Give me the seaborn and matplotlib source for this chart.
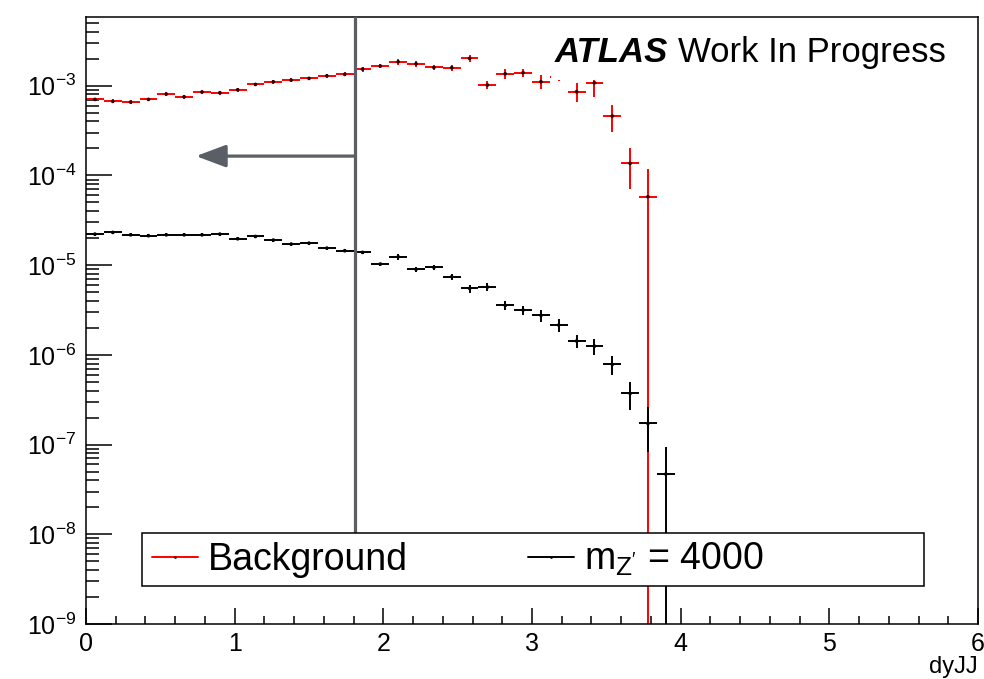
import numpy as np
import pandas as pd
import matplotlib
matplotlib.use("Agg")
import matplotlib.pyplot as plt
from matplotlib.patches import Rectangle
from matplotlib.lines import Line2D
from matplotlib.ticker import LogLocator, MultipleLocator, NullFormatter
import seaborn as sns

# ---------------- data ----------------
bin_width = 0.12

bkg_x = [0.06, 0.18, 0.30, 0.42, 0.54, 0.66, 0.78, 0.90, 1.02, 1.14, 1.26, 1.38,
         1.50, 1.62, 1.74, 1.86, 1.98, 2.10, 2.22, 2.34, 2.46, 2.58, 2.70, 2.82,
         2.94, 3.06, 3.18, 3.30, 3.42, 3.54, 3.66, 3.78]
bkg_y = [7.05e-4, 6.70e-4, 6.58e-4, 7.05e-4, 8.08e-4, 7.54e-4, 8.51e-4, 8.36e-4,
         9.03e-4, 1.036e-3, 1.108e-3, 1.157e-3, 1.209e-3, 1.291e-3, 1.34e-3, 1.535e-3,
         1.66e-3, 1.85e-3, 1.76e-3, 1.60e-3, 1.59e-3, 2.02e-3, 1.02e-3, 1.36e-3,
         1.40e-3, 1.11e-3, 1.25e-3, 8.58e-4, 1.08e-3, 4.60e-4, 1.364e-4, 5.8e-5]
bkg_err = [3.5e-5, 3.4e-5, 3.3e-5, 3.5e-5, 4.0e-5, 3.8e-5, 4.3e-5, 4.2e-5,
           4.5e-5, 5.2e-5, 5.5e-5, 5.8e-5, 6.0e-5, 6.5e-5, 6.7e-5, 9.2e-5,
           1.0e-4, 1.3e-4, 1.2e-4, 1.1e-4, 1.1e-4, 1.8e-4, 1.0e-4, 1.7e-4,
           1.4e-4, 2.0e-4, 1.2e-4, 2.05e-4, 3.3e-4, 1.55e-4, 6.5e-5, 6.0e-5]

sig_x = [0.06, 0.18, 0.30, 0.42, 0.54, 0.66, 0.78, 0.90, 1.02, 1.14, 1.26, 1.38,
         1.50, 1.62, 1.74, 1.86, 1.98, 2.10, 2.22, 2.34, 2.46, 2.58, 2.70, 2.82,
         2.94, 3.06, 3.18, 3.30, 3.42, 3.54, 3.66, 3.78, 3.90]
sig_y = [2.22e-5, 2.32e-5, 2.18e-5, 2.13e-5, 2.18e-5, 2.18e-5, 2.18e-5, 2.22e-5,
         1.97e-5, 2.09e-5, 1.905e-5, 1.72e-5, 1.76e-5, 1.55e-5, 1.45e-5, 1.39e-5,
         1.03e-5, 1.24e-5, 8.98e-6, 9.45e-6, 7.43e-6, 5.51e-6, 5.70e-6, 3.56e-6,
         3.16e-6, 2.76e-6, 2.15e-6, 1.43e-6, 1.25e-6, 7.83e-7, 3.72e-7, 1.72e-7, 4.69e-8]
sig_err = [7.8e-7, 8.1e-7, 7.6e-7, 7.5e-7, 7.6e-7, 7.6e-7, 7.6e-7, 7.8e-7,
           7.9e-7, 8.4e-7, 7.6e-7, 6.9e-7, 7.0e-7, 6.2e-7, 5.8e-7, 5.6e-7,
           4.1e-7, 9.3e-7, 6.7e-7, 7.1e-7, 5.9e-7, 5.5e-7, 5.7e-7, 4.3e-7,
           3.8e-7, 4.1e-7, 3.7e-7, 2.4e-7, 2.4e-7, 1.8e-7, 1.3e-7, 9.0e-8, 4.8e-8]

series_labels = ["Background", r"m$_{\mathregular{Z'}}$ = 4000"]
series_colors = ["#ff0000", "#000000"]
x_label = "dyJJ"
cut_value = 1.81
arrow_end = 0.74
arrow_level = 1.645e-4

# ---------------- style ----------------
sns.set_style("white")
plt.rcParams["font.family"] = ["Liberation Sans", "DejaVu Sans"]
plt.rcParams["mathtext.fontset"] = "custom"
plt.rcParams["mathtext.rm"] = "Liberation Sans"
plt.rcParams["mathtext.it"] = "Liberation Sans:italic"
plt.rcParams["mathtext.bf"] = "Liberation Sans:bold"
plt.rcParams["mathtext.default"] = "regular"
plt.rcParams["text.color"] = "black"
plt.rcParams["axes.labelcolor"] = "black"
plt.rcParams["xtick.color"] = "black"
plt.rcParams["ytick.color"] = "black"

fig = plt.figure(figsize=(9.84, 6.79), dpi=100)
ax = fig.add_axes([0.0874, 0.0810, 0.9065, 0.8940])

df = pd.concat([
    pd.DataFrame({"dyJJ": bkg_x, "value": bkg_y, "err": bkg_err, "sample": series_labels[0]}),
    pd.DataFrame({"dyJJ": sig_x, "value": sig_y, "err": sig_err, "sample": series_labels[1]}),
], ignore_index=True)

for lab, col in zip(series_labels, series_colors):
    sub = df[df["sample"] == lab]
    y = sub["value"].to_numpy()
    e = sub["err"].to_numpy()
    lo = np.minimum(e, y - 1e-13)
    ax.errorbar(sub["dyJJ"], y, xerr=bin_width / 2, yerr=[lo, e], fmt="none",
                ecolor=col, elinewidth=1.4, capsize=0, zorder=2)

sns.scatterplot(data=df, x="dyJJ", y="value", hue="sample",
                palette={series_labels[0]: "#300000", series_labels[1]: "#000000"},
                s=7, linewidth=0, legend=False, ax=ax, zorder=3)

ax.set_yscale("log")
ax.set_xlim(0, 6)
ax.set_ylim(1e-9, 5.85e-3)

ax.xaxis.set_major_locator(MultipleLocator(1))
ax.xaxis.set_minor_locator(MultipleLocator(0.2))
ax.yaxis.set_major_locator(LogLocator(base=10, numticks=20))
ax.yaxis.set_minor_locator(LogLocator(base=10, subs=np.arange(2, 10), numticks=20))
ax.yaxis.set_minor_formatter(NullFormatter())

ax.tick_params(axis="both", which="both", direction="in", top=False, right=False,
               bottom=True, left=True, color="black", labelcolor="black")
ax.tick_params(axis="y", which="major", length=18.7, width=1.1, pad=7, labelsize=18)
ax.tick_params(axis="y", which="minor", length=9.4, width=1.1)
ax.tick_params(axis="x", which="major", length=11.5, width=1.1, pad=6, labelsize=18)
ax.tick_params(axis="x", which="minor", length=5.8, width=1.1)
for s in ax.spines.values():
    s.set_color("black")
    s.set_linewidth(1.1)

ax.set_ylabel("")
ax.yaxis.label.set_visible(False)
ax.set_xlabel(x_label, loc="right", fontsize=17, labelpad=0, color="black")

# cut line and arrow
ax.axvline(cut_value, ymin=0.1499, ymax=1.0, color="#5a5f66", lw=2.3, zorder=4)
ax.annotate("", xy=(arrow_end, arrow_level), xytext=(cut_value, arrow_level),
            arrowprops=dict(arrowstyle="-|>,head_length=0.8,head_width=0.3",
                            color="#5a5f66", lw=2.3, mutation_scale=23,
                            shrinkA=0, shrinkB=0), zorder=4)

# ATLAS label with white box
ax.add_patch(Rectangle((0.521, 0.896), 0.472, 0.094, transform=ax.transAxes,
                       facecolor="white", edgecolor="none", zorder=5))
ax.text(0.5258, 0.9264, "ATLAS", transform=ax.transAxes, fontsize=25, color="black",
        fontweight="bold", fontstyle="italic", va="baseline", ha="left", zorder=6)
ax.text(0.6637, 0.9264, "Work In Progress", transform=ax.transAxes, fontsize=25,
        color="black", va="baseline", ha="left", zorder=6)

# legend
ax.add_patch(Rectangle((0.0628, 0.0626), 0.8767, 0.0873, transform=ax.transAxes,
                       facecolor="white", edgecolor="black", lw=1.1, zorder=6))
handles = [Line2D([], [], color=c, lw=1.4, marker="o", ms=2,
                  mfc="#300000" if i == 0 else "black", mec="none")
           for i, c in enumerate(series_colors)]
leg = ax.legend(handles, series_labels, loc="center left", bbox_to_anchor=(0.074, 0.1063),
                ncol=2, frameon=False, fontsize=27, handlelength=1.22,
                handletextpad=0.27, columnspacing=3.2, borderpad=0, borderaxespad=0)
for t in leg.get_texts():
    t.set_color("black")
leg.set_zorder(7)

fig.savefig("out.png", dpi=100)
